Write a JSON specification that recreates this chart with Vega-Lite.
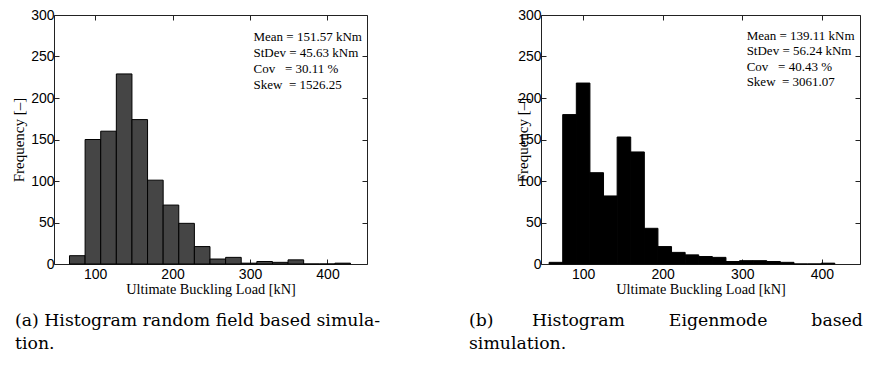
{
  "$schema": "https://vega.github.io/schema/vega-lite/v6.json",
  "background": "white",
  "padding": {"left": 11, "top": 7, "right": 5, "bottom": 5},
  "bounds": "flush",
  "spacing": 174,
  "config": {
    "view": {"stroke": "#222", "strokeWidth": 1},
    "axis": {
      "grid": false, "domain": false,
      "labelFont": "Liberation Sans", "labelFontSize": 14, "labelColor": "#000",
      "titleFont": "Liberation Serif", "titleFontSize": 14.3, "titleFontWeight": "normal", "titleColor": "#000",
      "tickColor": "#222", "tickSize": -5, "labelPadding": 8
    },
    "axisLeft": {"labelPadding": 5, "titleFontSize": 15},
    "title": {"font": "DejaVu Serif", "fontSize": 17.3, "fontWeight": "normal", "color": "#000", "orient": "bottom", "anchor": "start", "frame": "group", "lineHeight": 23}
  },
  "hconcat": [
    {
      "width": 313, "height": 249,
      "title": {"text": ["(a) Histogram random field based simula-", "tion."], "dx": -39, "offset": 16},
      "data": {"values": [
        {"start": 67, "end": 87.15, "count": 10},
        {"start": 87.15, "end": 107.3, "count": 150},
        {"start": 107.3, "end": 127.45, "count": 160},
        {"start": 127.45, "end": 147.6, "count": 229},
        {"start": 147.6, "end": 167.75, "count": 174},
        {"start": 167.75, "end": 187.9, "count": 101},
        {"start": 187.9, "end": 208.05, "count": 71},
        {"start": 208.05, "end": 228.2, "count": 49},
        {"start": 228.2, "end": 248.35, "count": 21},
        {"start": 248.35, "end": 268.5, "count": 6},
        {"start": 268.5, "end": 288.65, "count": 8},
        {"start": 288.65, "end": 308.8, "count": 1},
        {"start": 308.8, "end": 328.95, "count": 3},
        {"start": 328.95, "end": 349.1, "count": 2},
        {"start": 349.1, "end": 369.25, "count": 5},
        {"start": 369.25, "end": 389.4, "count": 0},
        {"start": 389.4, "end": 409.55, "count": 0},
        {"start": 409.55, "end": 429.7, "count": 1}
      ]},
      "layer": [
        {
          "mark": {"type": "bar", "fill": "#454545", "stroke": "#000", "strokeWidth": 1},
          "encoding": {
            "x": {"field": "start", "type": "quantitative", "scale": {"domain": [47, 451], "nice": false, "zero": false},
                  "axis": {"values": [100, 200, 300, 400], "title": "Ultimate Buckling Load [kN]", "titlePadding": 1}},
            "x2": {"field": "end"},
            "y": {"field": "count", "type": "quantitative", "scale": {"domain": [0, 300], "nice": false},
                  "axis": {"values": [0, 50, 100, 150, 200, 250, 300], "title": "Frequency [–]", "titlePadding": 4}},
            "y2": {"datum": 0}
          }
        },
        {
          "mark": {"type": "bar", "opacity": 0},
          "encoding": {
            "x": {"field": "start", "type": "quantitative", "axis": {"orient": "top", "values": [100, 200, 300, 400], "labels": false, "title": null}},
            "x2": {"field": "end"},
            "y": {"field": "count", "type": "quantitative", "axis": {"orient": "right", "values": [0, 50, 100, 150, 200, 250, 300], "labels": false, "title": null}},
            "y2": {"datum": 0}
          }
        },
        {
          "data": {"values": [{}]},
          "mark": {"type": "text", "align": "left", "baseline": "top", "font": "Liberation Serif", "fontSize": 13, "lineHeight": 15.8, "color": "#000"},
          "encoding": {
            "x": {"datum": 304.5, "type": "quantitative", "axis": null},
            "y": {"datum": 280.5, "type": "quantitative", "axis": null},
            "text": {"value": ["Mean = 151.57 kNm", "StDev = 45.63 kNm", "Cov\u00a0\u00a0\u00a0= 30.11 %", "Skew\u00a0\u00a0= 1526.25"]}
          }
        }
      ],
      "resolve": {"axis": {"x": "independent", "y": "independent"}}
    },
    {
      "width": 319, "height": 249,
      "title": {"text": ["(b)\u00a0\u00a0\u00a0\u00a0\u00a0\u00a0\u00a0Histogram\u00a0\u00a0\u00a0\u00a0\u00a0\u00a0\u00a0\u00a0Eigenmode\u00a0\u00a0\u00a0\u00a0\u00a0\u00a0\u00a0\u00a0based", "simulation."], "dx": -72, "offset": 16},
      "data": {"values": [
        {"start": 57.2, "end": 74.3, "count": 2},
        {"start": 74.3, "end": 91.4, "count": 180},
        {"start": 91.4, "end": 108.5, "count": 218},
        {"start": 108.5, "end": 125.6, "count": 110},
        {"start": 125.6, "end": 142.7, "count": 82},
        {"start": 142.7, "end": 159.8, "count": 153},
        {"start": 159.8, "end": 176.9, "count": 135},
        {"start": 176.9, "end": 194.0, "count": 43},
        {"start": 194.0, "end": 211.1, "count": 21},
        {"start": 211.1, "end": 228.2, "count": 14},
        {"start": 228.2, "end": 245.3, "count": 11},
        {"start": 245.3, "end": 262.4, "count": 9},
        {"start": 262.4, "end": 279.5, "count": 8},
        {"start": 279.5, "end": 296.6, "count": 3},
        {"start": 296.6, "end": 313.7, "count": 4},
        {"start": 313.7, "end": 330.8, "count": 4},
        {"start": 330.8, "end": 347.9, "count": 3},
        {"start": 347.9, "end": 365.0, "count": 2},
        {"start": 365.0, "end": 382.1, "count": 0},
        {"start": 382.1, "end": 399.2, "count": 0},
        {"start": 399.2, "end": 416.3, "count": 1}
      ]},
      "layer": [
        {
          "mark": {"type": "bar", "fill": "#000", "stroke": "#000", "strokeWidth": 1},
          "encoding": {
            "x": {"field": "start", "type": "quantitative", "scale": {"domain": [47, 448], "nice": false, "zero": false},
                  "axis": {"values": [100, 200, 300, 400], "title": "Ultimate Buckling Load [kN]", "titlePadding": 1}},
            "x2": {"field": "end"},
            "y": {"field": "count", "type": "quantitative", "scale": {"domain": [0, 300], "nice": false},
                  "axis": {"values": [0, 50, 100, 150, 200, 250, 300], "title": "Frequency [–]", "titlePadding": -13}},
            "y2": {"datum": 0}
          }
        },
        {
          "mark": {"type": "bar", "opacity": 0},
          "encoding": {
            "x": {"field": "start", "type": "quantitative", "axis": {"orient": "top", "values": [100, 200, 300, 400], "labels": false, "title": null}},
            "x2": {"field": "end"},
            "y": {"field": "count", "type": "quantitative", "axis": {"orient": "right", "values": [0, 50, 100, 150, 200, 250, 300], "labels": false, "title": null}},
            "y2": {"datum": 0}
          }
        },
        {
          "data": {"values": [{}]},
          "mark": {"type": "text", "align": "left", "baseline": "top", "font": "Liberation Serif", "fontSize": 13, "lineHeight": 15.5, "color": "#000"},
          "encoding": {
            "x": {"datum": 305.5, "type": "quantitative", "axis": null},
            "y": {"datum": 282.5, "type": "quantitative", "axis": null},
            "text": {"value": ["Mean = 139.11 kNm", "StDev = 56.24 kNm", "Cov\u00a0\u00a0\u00a0= 40.43 %", "Skew\u00a0\u00a0= 3061.07"]}
          }
        }
      ],
      "resolve": {"axis": {"x": "independent", "y": "independent"}}
    }
  ]
}
